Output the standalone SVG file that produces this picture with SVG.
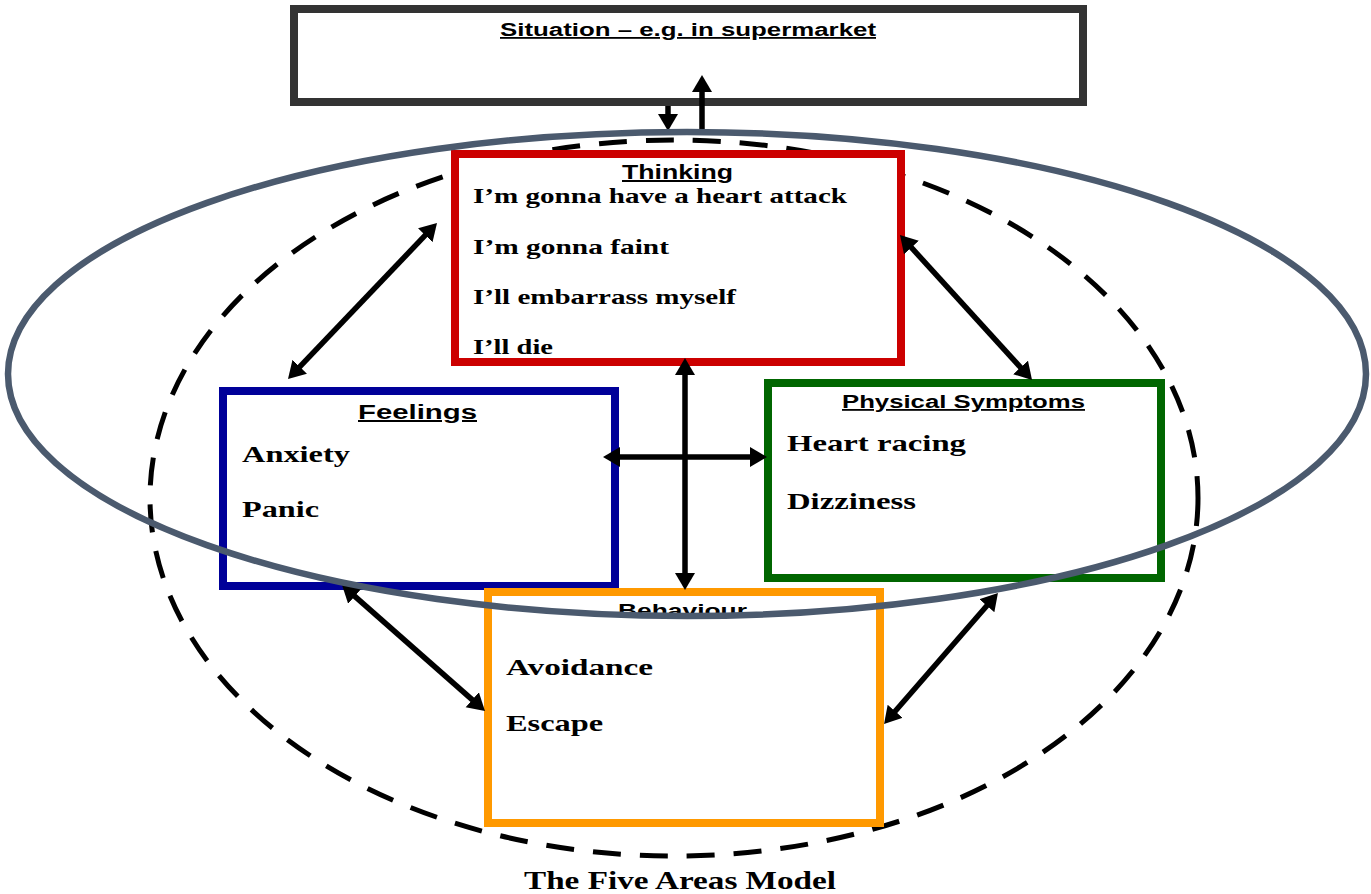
<svg xmlns="http://www.w3.org/2000/svg" width="1371" height="894" viewBox="0 0 1371 894">
  <style>
    .box { fill: #ffffff; stroke-width: 8; }
    .head { font-family: "Liberation Sans", Arial, sans-serif; font-weight: bold; text-decoration: underline; fill: #000; }
    .item { font-family: "Liberation Serif", "Times New Roman", serif; font-weight: bold; fill: #000; }
    .link { stroke: #000; stroke-width: 5.5; fill: none; }
  </style>
  <defs>
    <marker id="tip" markerUnits="userSpaceOnUse" markerWidth="18" markerHeight="21" refX="7" refY="10" orient="auto-start-reverse">
      <path d="M0,0 L17,10 L0,20 z" fill="#000"/>
    </marker>
  </defs>

  <rect x="0" y="0" width="1371" height="894" fill="#ffffff"/>

  <!-- dashed outer boundary -->
  <ellipse id="boundary" cx="674" cy="498" rx="524" ry="358" fill="none" stroke="#000" stroke-width="5" stroke-dasharray="28 19"/>

  <g id="situation">
    <rect class="box" x="294" y="9" width="789" height="93" stroke="#333333"/>
    <text class="head" x="500" y="36" font-size="18" textLength="376" lengthAdjust="spacingAndGlyphs">Situation – e.g. in supermarket</text>
  </g>

  <g id="thinking">
    <rect class="box" x="455" y="154" width="446" height="208" stroke="#cc0000" stroke-width="7.5"/>
    <text class="head" x="622" y="179" font-size="20" textLength="111" lengthAdjust="spacingAndGlyphs">Thinking</text>
    <text class="item" x="473" y="203" font-size="21" textLength="374" lengthAdjust="spacingAndGlyphs">I’m gonna have a heart attack</text>
    <text class="item" x="473" y="254" font-size="21" textLength="196" lengthAdjust="spacingAndGlyphs">I’m gonna faint</text>
    <text class="item" x="473" y="304" font-size="21" textLength="263" lengthAdjust="spacingAndGlyphs">I’ll embarrass myself</text>
    <text class="item" x="473" y="354" font-size="21" textLength="80" lengthAdjust="spacingAndGlyphs">I’ll die</text>
  </g>

  <g id="feelings">
    <rect class="box" x="223" y="391" width="392" height="195" stroke="#000099"/>
    <text class="head" x="358" y="419" font-size="20" textLength="119" lengthAdjust="spacingAndGlyphs">Feelings</text>
    <text class="item" x="242" y="462" font-size="24" textLength="108" lengthAdjust="spacingAndGlyphs">Anxiety</text>
    <text class="item" x="242" y="517" font-size="24" textLength="77" lengthAdjust="spacingAndGlyphs">Panic</text>
  </g>

  <g id="physical">
    <rect class="box" x="768" y="383" width="393" height="195" stroke="#006600"/>
    <text class="head" x="842" y="408" font-size="18" textLength="243" lengthAdjust="spacingAndGlyphs">Physical Symptoms</text>
    <text class="item" x="787" y="451" font-size="24" textLength="179" lengthAdjust="spacingAndGlyphs">Heart racing</text>
    <text class="item" x="787" y="509" font-size="24" textLength="129" lengthAdjust="spacingAndGlyphs">Dizziness</text>
  </g>

  <g id="behaviour">
    <rect class="box" x="488" y="592" width="392" height="231" stroke="#ff9900"/>
    <text class="item" x="618" y="617" font-size="18" textLength="129" lengthAdjust="spacingAndGlyphs" style="font-family:'Liberation Sans', Arial, sans-serif">Behaviour</text>
    <text class="item" x="506" y="675" font-size="24" textLength="147" lengthAdjust="spacingAndGlyphs">Avoidance</text>
    <text class="item" x="506" y="731" font-size="24" textLength="97" lengthAdjust="spacingAndGlyphs">Escape</text>
  </g>

  <g id="connectors">
    <line class="link" x1="668" y1="106" x2="668" y2="121" marker-end="url(#tip)"/>
    <line class="link" x1="702" y1="132" x2="702" y2="85" marker-end="url(#tip)"/>
    <line class="link" x1="430.1" y1="230.2" x2="294.9" y2="371.8" marker-start="url(#tip)" marker-end="url(#tip)"/>
    <line class="link" x1="906.7" y1="242.4" x2="1025.3" y2="372.6" marker-start="url(#tip)" marker-end="url(#tip)"/>
    <line class="link" x1="685" y1="368" x2="685" y2="580" marker-start="url(#tip)" marker-end="url(#tip)"/>
    <line class="link" x1="613" y1="457" x2="757" y2="457" marker-start="url(#tip)" marker-end="url(#tip)"/>
    <line class="link" x1="349.5" y1="591.6" x2="477.5" y2="704.4" marker-start="url(#tip)" marker-end="url(#tip)"/>
    <line class="link" x1="991.4" y1="600.5" x2="890.6" y2="716.5" marker-start="url(#tip)" marker-end="url(#tip)"/>
  </g>

  <!-- solid inner ring -->
  <ellipse id="ring" cx="687" cy="374" rx="679" ry="242" fill="none" stroke="#4b5a6e" stroke-width="6.5"/>

  <text class="item" x="524" y="889" font-size="25" textLength="312" lengthAdjust="spacingAndGlyphs">The Five Areas Model</text>
</svg>
